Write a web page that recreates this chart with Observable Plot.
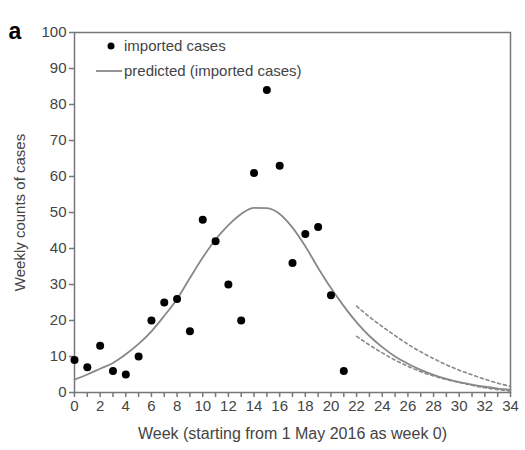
<!DOCTYPE html>
<html>
<head>
<meta charset="utf-8">
<script src="https://cdn.jsdelivr.net/npm/d3@7"></script>
<script src="https://cdn.jsdelivr.net/npm/@observablehq/plot@0.6"></script>
<style>
  html, body { margin: 0; padding: 0; background: #fff; }
  #wrap { position: relative; width: 525px; height: 450px; font-family: "Liberation Sans", Arial, sans-serif; }
  #legend { position: absolute; left: 92px; top: 33px; font-size: 15px; color: #444; line-height: 25px; }
  #legend .row { display: flex; align-items: center; height: 25px; }
  #legend svg { margin-right: 2px; }
</style>
</head>
<body>
<div id="wrap">
  <div id="chart"></div>
  <div id="legend">
    <div class="row"><svg width="30" height="12"><circle cx="19" cy="6" r="3.5" fill="#000"/></svg>imported cases</div>
    <div class="row"><svg width="30" height="12"><line x1="4" x2="30" y1="6" y2="6" stroke="#888" stroke-width="1.8"/></svg>predicted (imported cases)</div>
  </div>
</div>
<script>
// Observed imported cases per week
const obsWeeks = [0,1,2,3,4,5,6,7,8,9,10,11,12,13,14,15,16,17,18,19,20,21];
const obsCases = [9,7,13,6,5,10,20,25,26,17,48,42,30,20,61,84,63,36,44,46,27,6];

// Predicted curve
const predWeeks = [0,1,2,3,4,5,6,7,8,9,10,11,12,13,14,15,16,17,18,19,20,21,22,23,24,25,26,27,28,29,30,31,32,33,34];
const predCases = [3.6,5.0,6.6,8.2,10.6,13.5,17,21.3,26,31.8,37.5,42.5,46.5,49.6,51.3,51.2,49.6,45.8,40.6,34.6,29,24,19.5,15.7,12.6,10,8,6.3,4.9,3.8,2.9,2.2,1.6,1.1,0.8];

// Prediction bounds (dashed)
const boundWeeks = [22,23,24,25,26,27,28,29,30,31,32,33,34];
const upperCases = [24,21,18.3,15.8,13.4,11.3,9.4,7.7,6.2,4.9,3.7,2.6,1.7];
const lowerCases = [15.6,13.2,11,9,7.3,5.8,4.6,3.6,2.8,2.0,1.3,0.8,0.4];

const xTicks = d3.range(0, 35, 1);
const yTicks = [0,10,20,30,40,50,60,70,80,90,100];

const obs = obsWeeks.map((w, i) => ({week: w, cases: obsCases[i]}));
const pred = predWeeks.map((w, i) => ({week: w, cases: predCases[i]}));
const upper = boundWeeks.map((w, i) => ({week: w, cases: upperCases[i]}));
const lower = boundWeeks.map((w, i) => ({week: w, cases: lowerCases[i]}));

const gray = "#888";
const textColor = "#444";

const chart = Plot.plot({
  width: 525,
  height: 450,
  marginLeft: 74,
  marginRight: 15,
  marginTop: 32,
  marginBottom: 58,
  style: {fontFamily: "'Liberation Sans', Arial, sans-serif", fontSize: "15px", color: textColor, background: "#fff"},
  x: {domain: [0, 34]},
  y: {domain: [0, 100]},
  marks: [
    Plot.frame({stroke: "#777", strokeWidth: 1.5}),
    Plot.axisX({ticks: xTicks, tickSize: 5, tickPadding: 3, stroke: "#777", strokeWidth: 1.5,
      tickFormat: d => d % 2 === 0 ? String(d) : "", label: null, fill: textColor, fontSize: 15}),
    Plot.axisY({ticks: yTicks, tickSize: 5, tickPadding: 3, stroke: "#777", strokeWidth: 1.5,
      label: null, fill: textColor, fontSize: 15}),
    Plot.text(["Week (starting from 1 May 2016 as week 0)"], {frameAnchor: "bottom", dy: 46, fill: textColor, fontSize: 16}),
    Plot.text(["Weekly counts of cases"], {frameAnchor: "left", textAnchor: "middle", dx: -54, rotate: -90, fill: textColor, fontSize: 15}),
    Plot.text(["a"], {frameAnchor: "top-left", dx: -66, dy: -10, fontSize: 23, fontWeight: "bold", fill: "#000"}),
    Plot.line(pred, {x: "week", y: "cases", stroke: gray, strokeWidth: 1.8, curve: "monotone-x"}),
    Plot.line(upper, {x: "week", y: "cases", stroke: gray, strokeWidth: 1.6, strokeDasharray: "3,3", curve: "monotone-x"}),
    Plot.line(lower, {x: "week", y: "cases", stroke: gray, strokeWidth: 1.6, strokeDasharray: "3,3", curve: "monotone-x"}),
    Plot.dot(obs, {x: "week", y: "cases", r: 4, fill: "#000"})
  ]
});
document.getElementById("chart").appendChild(chart);
</script>
</body>
</html>
